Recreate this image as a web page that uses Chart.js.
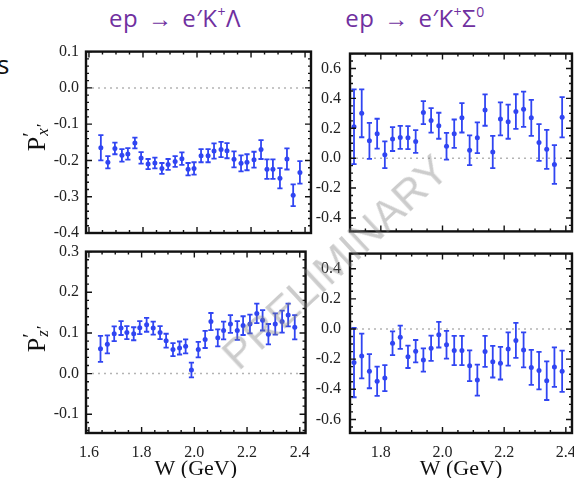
<!DOCTYPE html>
<html>
<head>
<meta charset="utf-8">
<script src="https://cdn.jsdelivr.net/npm/chart.js@4/dist/chart.umd.min.js"></script>
<style>
  html, body { margin: 0; padding: 0; background: #fff; width: 574px; height: 478px; overflow: hidden; }
  canvas { position: absolute; }
  .title { position: absolute; top: 1px; transform: translateX(-50%); color: #7030a0; font-family: "Open Sans", sans-serif; font-size: 24px; letter-spacing: 0.5px; word-spacing: 3px; white-space: nowrap; }
  .title sup { font-size: 14px; vertical-align: 10px; line-height: 0; }
  .ylab { position: absolute; transform: translate(-50%, -50%) rotate(-90deg); font-family: "Liberation Serif", serif; font-size: 26px; color: #111; white-space: nowrap; }
  .ylab .ss { position: relative; display: inline-block; width: 18px; height: 10px; }
  .ylab .pr { position: absolute; left: 0; top: -16px; font-size: 20px; }
  .ylab .sb { position: absolute; left: 1px; top: -2px; font-size: 17px; font-style: italic; }
  .side { position: absolute; left: -3px; top: 46px; font-family: "Open Sans", sans-serif; font-size: 26px; color: #111; }
  .wm { position: absolute; left: 335px; top: 262px; transform: translate(-50%, -50%) rotate(-43deg); font-family: "Liberation Sans", sans-serif; font-size: 43px; color: rgba(128, 128, 128, 0.4); white-space: nowrap; pointer-events: none; }
</style>
</head>
<body>
<div class="side">s</div>
<div class="title" style="left:175px">ep → e′K<sup>+</sup>Λ</div>
<div class="title" style="left:415px">ep → e′K<sup>+</sup>Σ<sup>0</sup></div>

<canvas id="pxL" width="320" height="215" style="left:0;top:35px"></canvas>
<canvas id="pzL" width="320" height="243" style="left:0;top:235px"></canvas>
<canvas id="pxS" width="290" height="215" style="left:300px;top:35px"></canvas>
<canvas id="pzS" width="290" height="243" style="left:300px;top:235px"></canvas>

<div class="ylab" style="left:37px;top:135px">P<span class="ss"><span class="pr">′</span><span class="sb">x′</span></span></div>
<div class="ylab" style="left:37px;top:336px">P<span class="ss"><span class="pr">′</span><span class="sb">z′</span></span></div>

<div class="wm">PRELIMINARY</div>

<script>
// W bins (GeV)
const wLambda = [1.644, 1.670, 1.696, 1.722, 1.744, 1.770, 1.793, 1.819, 1.844, 1.870, 1.893,
  1.919, 1.944, 1.967, 1.989, 2.015, 2.041, 2.063, 2.089, 2.111, 2.137, 2.163, 2.185, 2.211,
  2.237, 2.259, 2.281, 2.307, 2.333, 2.356, 2.381];
const wSigma = [1.713, 1.738, 1.763, 1.788, 1.813, 1.838, 1.863, 1.888, 1.913, 1.938, 1.963,
  1.988, 2.013, 2.038, 2.063, 2.088, 2.113, 2.138, 2.163, 2.188, 2.213, 2.238, 2.263, 2.288,
  2.313, 2.338, 2.363, 2.388];

// K+ Lambda
const pxLambda = [-0.165, -0.205, -0.167, -0.186, -0.182, -0.152, -0.193, -0.210, -0.207, -0.222,
  -0.211, -0.203, -0.195, -0.224, -0.222, -0.187, -0.187, -0.174, -0.170, -0.173, -0.197, -0.208,
  -0.205, -0.198, -0.170, -0.224, -0.224, -0.249, -0.196, -0.296, -0.233];
const pxLambdaErr = [0.035, 0.017, 0.016, 0.017, 0.016, 0.015, 0.016, 0.014, 0.015, 0.015, 0.015,
  0.015, 0.017, 0.017, 0.017, 0.018, 0.018, 0.021, 0.021, 0.021, 0.022, 0.022, 0.022, 0.022,
  0.026, 0.027, 0.027, 0.028, 0.029, 0.030, 0.031];
const pzLambda = [0.061, 0.072, 0.098, 0.112, 0.101, 0.098, 0.113, 0.120, 0.112, 0.101, 0.081,
  0.059, 0.063, 0.067, 0.009, 0.059, 0.084, 0.128, 0.088, 0.106, 0.122, 0.106, 0.118, 0.122,
  0.148, 0.131, 0.097, 0.122, 0.128, 0.144, 0.114];
const pzLambdaErr = [0.032, 0.022, 0.018, 0.017, 0.016, 0.016, 0.016, 0.017, 0.016, 0.016, 0.017,
  0.016, 0.016, 0.017, 0.018, 0.019, 0.021, 0.021, 0.021, 0.022, 0.022, 0.023, 0.023, 0.023,
  0.024, 0.025, 0.025, 0.026, 0.027, 0.028, 0.030];

// K+ Sigma0
const pxSigma = [0.210, 0.300, 0.116, 0.164, 0.023, 0.128, 0.139, 0.137, 0.112, 0.305, 0.253,
  0.217, 0.080, 0.164, 0.270, 0.053, 0.137, 0.322, 0.042, 0.263, 0.244, 0.312, 0.328, 0.270,
  0.105, 0.059, -0.042, 0.274];
const pxSigmaErr = [0.250, 0.160, 0.120, 0.100, 0.090, 0.080, 0.077, 0.077, 0.076, 0.077, 0.082,
  0.087, 0.090, 0.095, 0.098, 0.100, 0.103, 0.105, 0.108, 0.110, 0.114, 0.116, 0.118, 0.120,
  0.123, 0.130, 0.130, 0.135];
const pzSigma = [-0.223, -0.179, -0.280, -0.347, -0.326, -0.095, -0.055, -0.185, -0.147, -0.206,
  -0.128, -0.038, -0.105, -0.143, -0.143, -0.244, -0.339, -0.149, -0.217, -0.227, -0.133, -0.076,
  -0.139, -0.255, -0.276, -0.343, -0.253, -0.280];
const pzSigmaErr = [0.230, 0.148, 0.113, 0.097, 0.086, 0.079, 0.077, 0.074, 0.074, 0.077, 0.084,
  0.085, 0.092, 0.097, 0.097, 0.102, 0.103, 0.103, 0.105, 0.108, 0.110, 0.116, 0.116, 0.116,
  0.124, 0.128, 0.131, 0.137];

// tick labels
const xTicksLambda = [1.6, 1.8, 2.0, 2.2, 2.4];
const xTicksSigma = [1.8, 2.0, 2.2, 2.4];
const yTicksPxLambda = [0.1, 0.0, -0.1, -0.2, -0.3, -0.4];
const yTicksPzLambda = [0.3, 0.2, 0.1, 0.0, -0.1];
const yTicksPxSigma = [0.6, 0.4, 0.2, 0.0, -0.2, -0.4];
const yTicksPzSigma = [0.4, 0.2, 0.0, -0.2, -0.4, -0.6];

const blue = '#3045f2';
const serif = '"Liberation Serif", "Times New Roman", serif';
Chart.defaults.font.family = serif;

// frame, inward ticks, dotted zero line and error bars
const framePlugin = {
  id: 'frame',
  beforeDatasetsDraw(chart, args, o) {
    const { ctx, chartArea: a, scales: { x, y } } = chart;
    ctx.save();
    ctx.strokeStyle = '#b4b4b4';
    ctx.lineWidth = 1.5;
    ctx.setLineDash([2, 4]);
    const y0 = y.getPixelForValue(0);
    ctx.beginPath();
    ctx.moveTo(a.left, y0);
    ctx.lineTo(a.right, y0);
    ctx.stroke();
    ctx.setLineDash([]);

    ctx.strokeStyle = blue;
    ctx.lineWidth = 1.8;
    ctx.beginPath();
    chart.data.datasets[0].data.forEach((p, i) => {
      const px = x.getPixelForValue(p.x);
      const top = y.getPixelForValue(p.y + o.err[i]);
      const bot = y.getPixelForValue(p.y - o.err[i]);
      ctx.moveTo(px, top); ctx.lineTo(px, bot);
      ctx.moveTo(px - 2.6, top); ctx.lineTo(px + 2.6, top);
      ctx.moveTo(px - 2.6, bot); ctx.lineTo(px + 2.6, bot);
    });
    ctx.stroke();
    ctx.restore();
  },
  afterDraw(chart, args, o) {
    const { ctx, chartArea: a, scales: { x, y } } = chart;
    const xMaj = x.ticks.map(t => t.value);
    const yMaj = y.ticks.map(t => t.value);
    const isMaj = (list, v) => list.some(m => Math.abs(m - v) < 1e-6);
    ctx.save();
    ctx.strokeStyle = '#111';
    ctx.lineWidth = 1.4;
    ctx.beginPath();
    for (let k = Math.ceil(x.min / o.xMinor - 1e-6); k * o.xMinor <= x.max + 1e-9; k++) {
      const v = k * o.xMinor;
      const px = x.getPixelForValue(v);
      const len = isMaj(xMaj, v) ? 6 : 3;
      ctx.moveTo(px, a.bottom); ctx.lineTo(px, a.bottom - len);
      ctx.moveTo(px, a.top); ctx.lineTo(px, a.top + len);
    }
    for (let k = Math.ceil(y.min / o.yMinor - 1e-6); k * o.yMinor <= y.max + 1e-9; k++) {
      const v = k * o.yMinor;
      const py = y.getPixelForValue(v);
      const len = isMaj(yMaj, v) ? 6 : 3;
      ctx.moveTo(a.left, py); ctx.lineTo(a.left + len, py);
      ctx.moveTo(a.right, py); ctx.lineTo(a.right - len, py);
    }
    ctx.stroke();
    ctx.lineWidth = 2.4;
    ctx.strokeRect(a.left, a.top, a.width, a.height);
    ctx.restore();
  }
};

function makePanel(id, cfg) {
  const ctx = document.getElementById(id).getContext('2d');
  return new Chart(ctx, {
    type: 'scatter',
    data: {
      datasets: [{
        data: cfg.w.map((w, i) => ({ x: w, y: cfg.v[i] })),
        pointRadius: 2.5,
        pointBackgroundColor: blue,
        pointBorderWidth: 0
      }]
    },
    options: {
      responsive: false,
      animation: false,
      layout: { padding: { top: 10, right: cfg.padRight, left: 0, bottom: 0 } },
      plugins: {
        legend: { display: false },
        tooltip: { enabled: false },
        frame: { err: cfg.err, xMinor: 0.05, yMinor: cfg.yMinor }
      },
      scales: {
        x: {
          type: 'linear',
          min: cfg.xMin,
          max: cfg.xMax,
          grid: { display: false, drawTicks: false },
          border: { display: false },
          afterBuildTicks: s => { s.ticks = cfg.xTicks.map(v => ({ value: v })); },
          afterFit: s => { s.height = cfg.xHeight; },
          ticks: {
            display: cfg.showX,
            padding: 10,
            maxRotation: 0,
            autoSkip: false,
            color: '#222',
            font: { family: serif, size: 16 },
            callback: v => v.toFixed(1)
          },
          title: {
            display: cfg.showX,
            text: 'W (GeV)',
            color: '#111',
            padding: 0,
            font: { family: serif, size: 22, lineHeight: 0.8 }
          }
        },
        y: {
          min: cfg.yMin,
          max: cfg.yMax,
          grid: { display: false, drawTicks: false },
          border: { display: false },
          afterBuildTicks: s => { s.ticks = cfg.yTicks.map(v => ({ value: v })); },
          afterFit: s => { s.width = cfg.yWidth; },
          ticks: {
            padding: cfg.yPad,
            autoSkip: false,
            color: '#222',
            font: { family: serif, size: 16 },
            callback: v => v.toFixed(1)
          }
        }
      }
    },
    plugins: [framePlugin]
  });
}

function drawAll() {
  makePanel('pxL', {
    w: wLambda, v: pxLambda, err: pxLambdaErr, xTicks: xTicksLambda, yTicks: yTicksPxLambda,
    xMin: 1.589, xMax: 2.422, yMin: -0.4, yMax: 0.1, yMinor: 0.02,
    yWidth: 86, yPad: 7, padRight: 9, xHeight: 17, showX: false
  });
  makePanel('pzL', {
    w: wLambda, v: pzLambda, err: pzLambdaErr, xTicks: xTicksLambda, yTicks: yTicksPzLambda,
    xMin: 1.589, xMax: 2.422, yMin: -0.146, yMax: 0.3, yMinor: 0.02,
    yWidth: 86, yPad: 7, padRight: 9, xHeight: 45, showX: true
  });
  makePanel('pxS', {
    w: wSigma, v: pxSigma, err: pxSigmaErr, xTicks: xTicksSigma, yTicks: yTicksPxSigma,
    xMin: 1.70, xMax: 2.42, yMin: -0.49, yMax: 0.7, yMinor: 0.05,
    yWidth: 50, yPad: 9, padRight: 18, xHeight: 17, showX: false
  });
  makePanel('pzS', {
    w: wSigma, v: pzSigma, err: pzSigmaErr, xTicks: xTicksSigma, yTicks: yTicksPzSigma,
    xMin: 1.70, xMax: 2.42, yMin: -0.69, yMax: 0.5, yMinor: 0.05,
    yWidth: 50, yPad: 9, padRight: 18, xHeight: 45, showX: true
  });
}

Promise.all([
  document.fonts.load('16px "Liberation Serif"'),
  document.fonts.load('22px "Liberation Serif"')
]).then(drawAll, drawAll);
</script>
</body>
</html>
